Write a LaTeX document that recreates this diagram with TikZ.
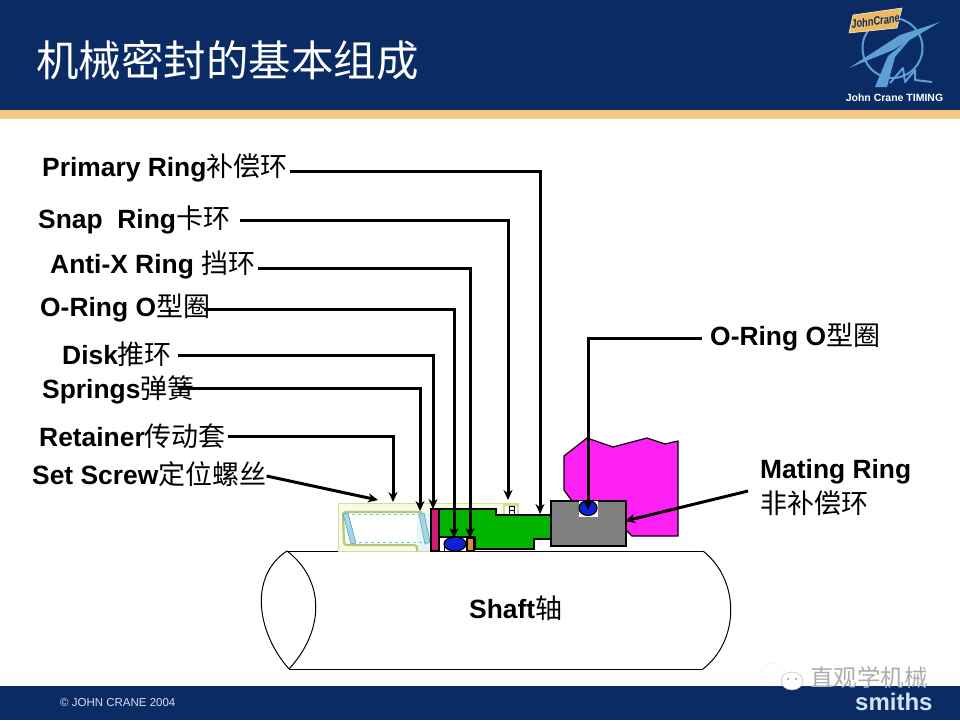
\documentclass[tikz,border=0pt]{standalone}
\usepackage{fontspec}
\usetikzlibrary{arrows.meta}
\setmainfont{Liberation Sans}
\newfontfamily\cjk{Noto Sans CJK SC}
\definecolor{navy}{HTML}{0B2B65}
\definecolor{tan}{HTML}{F4C983}
\definecolor{logotan}{HTML}{EDB95F}
\definecolor{logoblue}{HTML}{5E9FD6}
\definecolor{retainer}{HTML}{F9FBE6}
\definecolor{retline}{HTML}{D8DC90}
\definecolor{springline}{HTML}{B4C878}
\definecolor{coil}{HTML}{78C8DC}
\definecolor{seatpink}{HTML}{FF20F4}
\definecolor{ringgreen}{HTML}{00B400}
\definecolor{ringgray}{HTML}{808080}
\definecolor{sealblue}{HTML}{1020D8}
\definecolor{diskred}{HTML}{C8206E}
\definecolor{sealorange}{HTML}{E08A30}
\newcommand{\cn}[1]{{\fontsize{27}{28}\selectfont\cjk\mdseries #1}}
\tikzset{
  partlabel/.style = {anchor = west, inner sep = 0pt, font = \fontsize{26.4}{28}\selectfont\bfseries},
  leader/.style = {line width = 3pt, -{Stealth[length = 10pt, width = 9pt]}},
  part/.style = {draw = black, line width = 1.2pt}
}

\begin{document}
\begin{tikzpicture}[x = 1pt, y = -1pt]
  \useasboundingbox (0,0) rectangle (960,720);

  % Header and footer bands
  \fill[navy] (0,0) rectangle (960,110);
  \fill[tan] (0,110) rectangle (960,119);
  \fill[navy] (0,686) rectangle (960,720);
  \node[anchor = west, inner sep = 0pt, text = white, font = \fontsize{42.5}{44}\selectfont\cjk] (title) at (36,60) {机械密封的基本组成};

  % Logo
  \draw[logoblue, line width = 2pt] (892.5,48) circle (30);
  \fill[logoblue] (940,22) -- (900,35) -- (849,68) -- (893,50) -- cycle;
  \fill[logoblue] (912,37) -- (888,56) -- (875,87) -- (887,87) -- (895,57) -- cycle;
  \draw[logoblue, line width = 2pt, line join = round] (890,83) -- (903,68) -- (905,82) -- (915,70) -- (915,80) -- (932,82);
  \draw[fill = logotan, draw = white, line width = .5pt] (853,15) -- (902,8) -- (897,28) -- (849,33) -- cycle;
  \node[inner sep = 0pt, rotate = 8, xscale = .78, text = navy, font = \fontsize{12}{12}\selectfont\bfseries\itshape] (logoName) at (875.5,21) {JohnCrane};
  \node[inner sep = 0pt, text = white, font = \fontsize{10.5}{12}\selectfont\bfseries] (logoText) at (894.5,98) {John Crane TIMING};

  % Footer text
  \node[anchor = west, inner sep = 0pt, text = white!85!navy, font = \fontsize{11.5}{12}\selectfont] (copyright) at (60,703) {© JOHN CRANE 2004};
  \node[anchor = west, inner sep = 0pt, text = white!70!logoblue, font = \fontsize{24}{26}\selectfont\bfseries] (smiths) at (855,702) {smiths};

  % Watermark
  \draw[gray!60, dotted, fill = white] (773,673) ellipse (12 and 10);
  \draw[gray!60, fill = white] (792,681) ellipse (11 and 9);
  \fill[gray] (788,679) circle (1) (796,679) circle (1);
  \node[anchor = west, inner sep = 0pt, text = gray!65, font = \fontsize{23.5}{26}\selectfont\cjk] (watermark) at (810,677) {直观学机械};

  % Shaft
  \draw[line width = 1pt] (287,551) -- (703,551);
  \draw[line width = 1pt] (289,669) -- (703,669);
  \draw[line width = 1pt] (287,551) .. controls (250,575) and (255,630) .. (289,669);
  \draw[line width = 1pt] (287,551) .. controls (325,580) and (325,630) .. (289,669);
  \draw[line width = 1pt] (703,551) .. controls (740,580) and (740,640) .. (703,669);

  % Mating ring seat
  \draw[part, fill = seatpink] (564,456) -- (587,438) -- (613,447) -- (647,438) -- (665,444) -- (678,441) -- (678,536) -- (632,536) -- (626,530) -- (626,501) -- (572,501) -- (564,490) -- cycle;

  % Retainer and snap ring outlines
  \draw[retline, fill = retainer, line width = 1pt] (338,551) -- (338,503) -- (518,503) -- (518,515) -- (438,515) -- (438,551) -- cycle;
  \draw[retline, fill = white, line width = 1.4pt] (504,515) -- (504,505) -- (518,505) -- (518,515);
  \draw[line width = .8pt] (509,515) -- (509,506) -- (514,506) -- (514,515) (509,510) -- (514,510);

  % Spring pocket
  \fill[white] (344,513) rectangle (431,545);
  \fill[coil!20] (417,513) rectangle (431,551);
  \draw[springline, line width = 2.2pt, rounded corners = 3pt] (417,551) -- (417,545) -- (344,545) -- (343,512) -- (422,512);
  \draw[coil, dashed, line width = .9pt] (346,514) -- (422,514);
  \draw[coil, dashed, line width = .9pt] (353,542) -- (429,542);
  \draw[coil!80!black, fill = coil!70, line width = .6pt] (343,514) -- (348,513) -- (356,543) -- (351,544) -- cycle;
  \draw[coil!80!black, fill = coil!70, line width = .6pt] (419,514) -- (424,513) -- (430,542) -- (425,544) -- cycle;

  % Primary ring, disk and seals
  \draw[part, fill = ringgreen] (439,509) -- (496,509) -- (496,515) -- (551,515) -- (551,539) -- (534,539) -- (534,549) -- (475,549) -- (475,537) -- (439,537) -- cycle;
  \draw[part, fill = diskred] (431,509) rectangle (439,551);
  \fill[white] (440,538) rectangle (474,551);
  \draw[line width = .8pt] (444,546) -- (444,551);
  \draw[part, fill = sealblue] (455,544) ellipse (11 and 7);
  \draw[part, fill = sealorange] (467,538) rectangle (474,551);

  % Mating ring
  \draw[part, fill = ringgray] (551,501) rectangle (626,546);
  \fill[white] (579,501) rectangle (598,517);
  \draw[part, fill = sealblue] (588,508) ellipse (9 and 7.5);

  % Labels
  \node[partlabel] (primary) at (42,168) {Primary Ring\cn{补偿环}};
  \node[partlabel] (snap) at (38,220) {Snap\ \ Ring\cn{卡环}};
  \node[partlabel] (antix) at (50,265) {Anti-X Ring \cn{挡环}};
  \node[partlabel] (oringA) at (40,308) {O-Ring O\cn{型圈}};
  \node[partlabel] (disk) at (62,354) {Disk\cn{推环}};
  \node[partlabel] (springs) at (42,390) {Springs\cn{弹簧}};
  \node[partlabel] (retainerL) at (39,436) {Retainer\cn{传动套}};
  \node[partlabel] (setscrew) at (32,474) {Set Screw\cn{定位螺丝}};
  \node[partlabel] (oringB) at (710,337) {O-Ring O\cn{型圈}};
  \node[partlabel] (mating) at (760,472) {Mating Ring};
  \node[partlabel, font = \fontsize{27}{28}\selectfont\cjk] (matingB) at (760,503) {非补偿环};
  \node[partlabel] (shaftL) at (469,608) {Shaft\cn{轴}};

  % Arrow ends
  \coordinate (primaryTip) at (540,514);
  \coordinate (snapTip) at (508,500);
  \coordinate (antixTip) at (470,538);
  \coordinate (oringATip) at (454,538);
  \coordinate (diskTip) at (433,509);
  \coordinate (springsTip) at (420,511);
  \coordinate (retainerTip) at (393,502);
  \coordinate (setscrewTip) at (378,500);
  \coordinate (oringBTip) at (588,510);
  \coordinate (matingTip) at (625,521);
  \coordinate (matingStart) at (748,491);

  % Leaders
  \draw[leader] ([xshift = 2pt, yshift = -3pt]primary.east) -| (primaryTip);
  \draw[leader] ([xshift = 10pt]snap.east) -| (snapTip);
  \draw[leader] ([xshift = 3pt, yshift = -3pt]antix.east) -| (antixTip);
  \draw[leader] ([xshift = -6pt, yshift = -1pt]oringA.east) -| (oringATip);
  \draw[leader] ([xshift = 6pt, yshift = -1pt]disk.east) -| (diskTip);
  \draw[leader] ([xshift = -17pt, yshift = 2pt]springs.east) -| (springsTip);
  \draw[leader] ([xshift = 2pt]retainerL.east) -| (retainerTip);
  \draw[leader] ([yshift = -2pt]setscrew.east) -- (setscrewTip);
  \draw[leader] ([xshift = -8pt, yshift = -1pt]oringB.west) -| (oringBTip);
  \draw[leader] (matingStart) -- (matingTip);
\end{tikzpicture}
\end{document}
